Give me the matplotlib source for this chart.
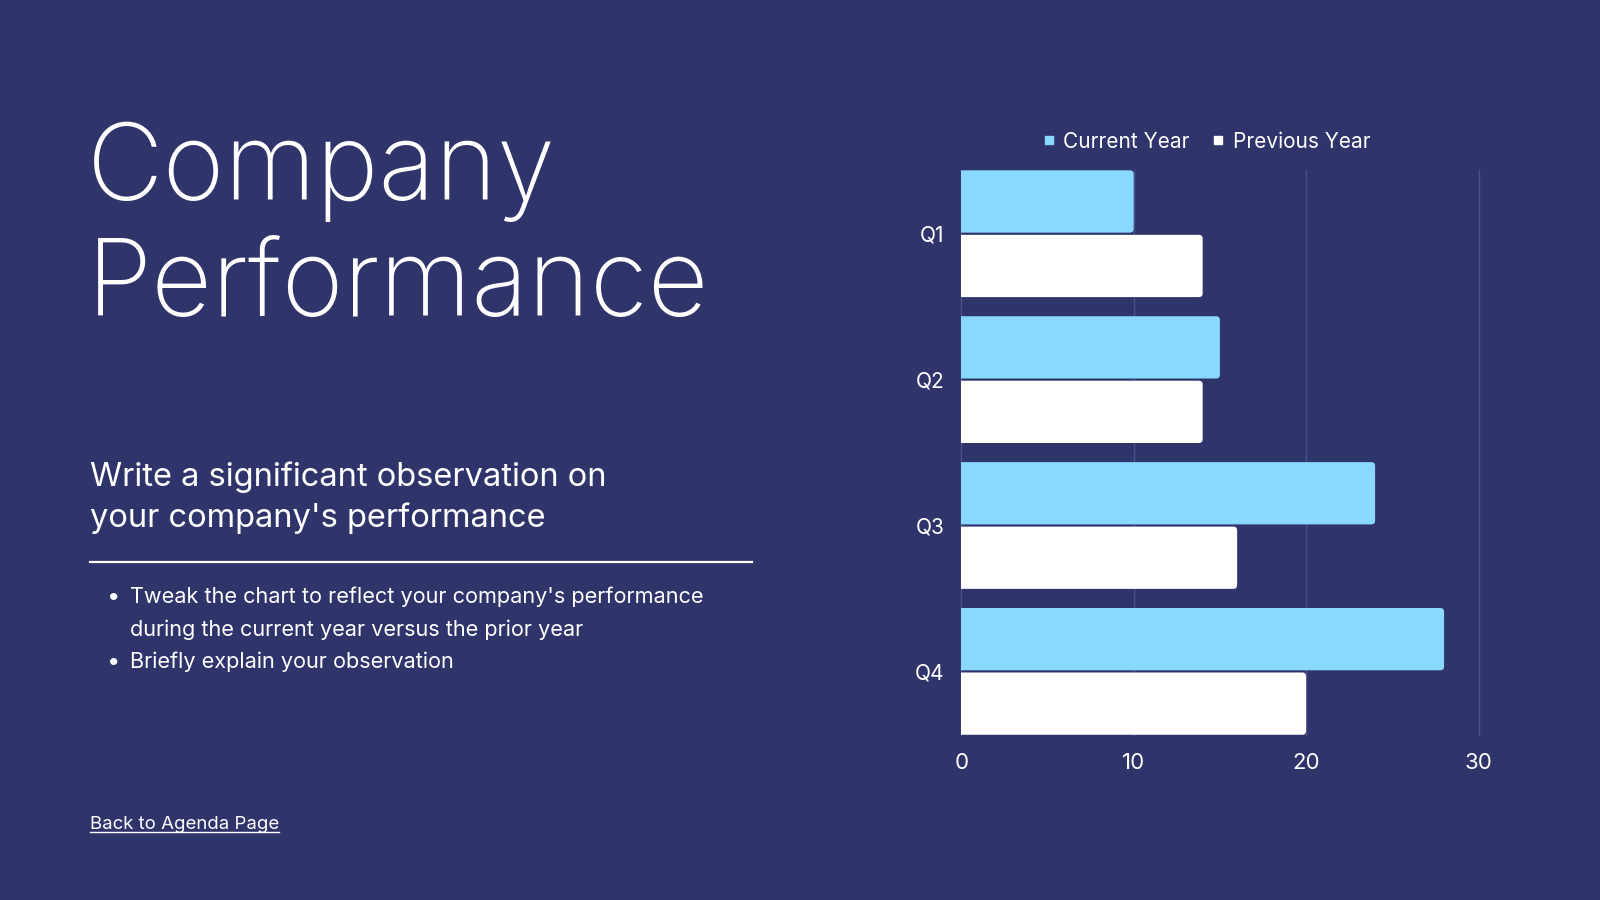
import matplotlib
matplotlib.use('Agg')
import matplotlib.pyplot as plt
from matplotlib.lines import Line2D
from matplotlib.patches import FancyBboxPatch

# chart data
quarters = ['Q1', 'Q2', 'Q3', 'Q4']
current_year = [10, 15, 24, 28]
previous_year = [14, 14, 16, 20]
x_ticks = [0, 10, 20, 30]

title_lines = ['Company', 'Performance']
subtitle_lines = ['Write a significant observation on', "your company's performance"]
bullet_lines = ["Tweak the chart to reflect your company's performance",
                'during the current year versus the prior year',
                'Briefly explain your observation']

BG = '#2f346b'
BLUE = '#89d9ff'
WHITE = '#ffffff'
GRID = '#4b5088'
FONT = ['Inter', 'DejaVu Sans']

W, H = 1568.0, 882.0  # reference pixel frame

def fx(px):
    return px / W

def fy(py):
    return 1 - py / H

plt.rcParams['font.family'] = FONT
fig = plt.figure(figsize=(16, 9), dpi=100, facecolor=BG)

# left side text
fig.text(fx(85), fy(196), title_lines[0], color=WHITE, fontsize=76, va='baseline',
         fontweight='light')
fig.text(fx(85), fy(310), title_lines[1], color=WHITE, fontsize=76, va='baseline',
         fontweight='light')
fig.text(fx(88), fy(476), subtitle_lines[0], color=WHITE, fontsize=23.5, va='baseline')
fig.text(fx(88), fy(516), subtitle_lines[1], color=WHITE, fontsize=23.5, va='baseline')
fig.add_artist(plt.Line2D([fx(88), fx(737)], [fy(551), fy(551)], color=WHITE, lw=1.6,
                          transform=fig.transFigure))

bullet_y = [591, 623, 655]
for i, line in enumerate(bullet_lines):
    if i != 1:
        fig.text(fx(105), fy(bullet_y[i]), '\u2022', color=WHITE, fontsize=17, va='baseline')
    fig.text(fx(127), fy(bullet_y[i]), line, color=WHITE, fontsize=15.6, va='baseline')

link = fig.text(fx(88), fy(812), 'Back to Agenda Page', color=WHITE, fontsize=13.4,
                va='baseline')
fig.canvas.draw()
bb = link.get_window_extent().transformed(fig.transFigure.inverted())
fig.add_artist(plt.Line2D([bb.x0, bb.x1], [fy(815), fy(815)], color=WHITE, lw=1,
                          transform=fig.transFigure))

# chart
ax = fig.add_axes([fx(942), fy(720), fx(1449) - fx(942), fy(167) - fy(720)])
ax.set_facecolor(BG)

bar_h = 0.427
off = 0.221
ypos = list(range(len(quarters)))
cur = ax.barh([y - off for y in ypos], current_year, height=bar_h, color=BLUE)
prev = ax.barh([y + off for y in ypos], previous_year, height=bar_h, color=WHITE)

ax.set_xlim(0, 30)
ax.set_ylim(3.434, -0.434)

# rounded right corners
r = 0.22
asp = (553 / 3.868) / (507 / 30.0)
for bars in (cur, prev):
    for p in bars:
        x, y = p.get_x(), p.get_y()
        w, h = p.get_width(), p.get_height()
        p.set_visible(False)
        fb = FancyBboxPatch((x - 1, y), w + 1, h,
                            boxstyle='round,pad=0,rounding_size=%f' % r,
                            mutation_aspect=1 / asp,
                            fc=p.get_facecolor(), ec='none', zorder=3)
        ax.add_patch(fb)

ax.set_xticks(x_ticks)
ax.set_yticks(ypos)
ax.set_yticklabels(quarters)
ax.grid(axis='x', color=GRID, lw=1, zorder=0)
for gl in ax.get_xgridlines():
    gl.set_clip_on(False)
ax.set_axisbelow(True)
for s in ax.spines.values():
    s.set_visible(False)
ax.tick_params(length=0, colors=WHITE, labelsize=15)
ax.tick_params(axis='x', pad=13, labelsize=16)
ax.tick_params(axis='y', pad=12)

handles = [Line2D([], [], ls='none', marker='s', ms=6, color=BLUE, label='Current Year'),
           Line2D([], [], ls='none', marker='s', ms=6, color=WHITE, label='Previous Year')]
ax.legend(handles=handles, loc='lower center', bbox_to_anchor=(0.475, 1.0), ncol=2,
          frameon=False, fontsize=15, labelcolor=WHITE, handlelength=0.5,
          handletextpad=0.45, columnspacing=1.1, borderaxespad=0.5)

fig.savefig('out.png', dpi=100, facecolor=BG)
